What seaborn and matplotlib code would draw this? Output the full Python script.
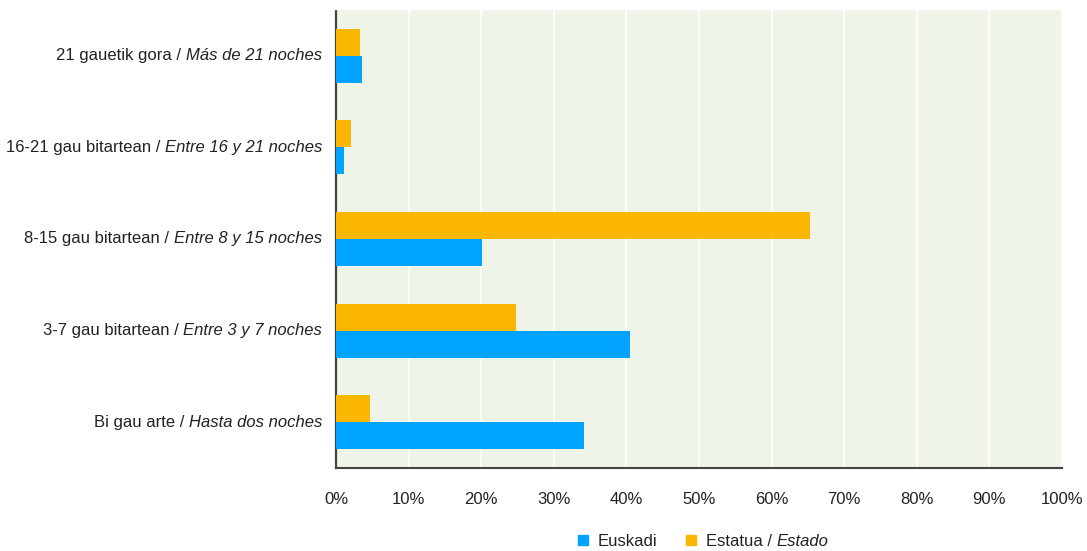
import matplotlib
matplotlib.use("Agg")
import pandas as pd
import matplotlib.pyplot as plt
import seaborn as sns
from matplotlib import font_manager
from matplotlib.lines import Line2D

# categories (top to bottom), Basque / Spanish parts of each label
labels_eu = ["21 gauetik gora", "16-21 gau bitartean", "8-15 gau bitartean",
             "3-7 gau bitartean", "Bi gau arte"]
labels_es = ["Más de 21 noches", "Entre 16 y 21 noches", "Entre 8 y 15 noches",
             "Entre 3 y 7 noches", "Hasta dos noches"]

# values in %
euskadi = [3.6, 1.1, 20.1, 40.5, 34.2]
estado = [3.3, 2.1, 65.3, 24.8, 4.7]

x_ticks = list(range(0, 101, 10))
x_ticklabels = [f"{v}%" for v in x_ticks]

blue = "#00a3ff"
orange = "#fbb600"
bg = "#eef4e7"
txt = "#222222"

# pick a narrow font if one is there
available = {f.name for f in font_manager.fontManager.ttflist}
if "Liberation Sans Narrow" in available:
    font = "Liberation Sans Narrow"
    fsize = 13
else:
    font = "Liberation Sans"
    fsize = 12

sns.set_theme(style="white")
plt.rcParams["font.family"] = [font, "DejaVu Sans"]

df = pd.DataFrame({
    "cat": labels_eu * 2,
    "serie": ["Euskadi"] * len(euskadi) + ["Estado"] * len(estado),
    "value": euskadi + estado,
})

fig = plt.figure(figsize=(10.87, 5.51), dpi=100)
ax = fig.add_axes([336 / 1087, 83 / 551, 726 / 1087, 458 / 551])
ax.set_facecolor(bg)

sns.barplot(data=df, y="cat", x="value", hue="serie", order=labels_eu,
            hue_order=["Estado", "Euskadi"],
            palette={"Euskadi": blue, "Estado": orange},
            orient="h", width=0.59, gap=0, saturation=1, legend=False, ax=ax,
            linewidth=0, zorder=3)

ax.set_xlim(0, 100)
ax.set_ylim(4.5, -0.5)
ax.set_xticks(x_ticks)
ax.set_xticklabels(x_ticklabels, fontsize=fsize, color=txt)
ax.tick_params(axis="x", length=0, pad=17)
ax.set_yticks(range(len(labels_eu)))
ax.set_yticklabels([])
ax.tick_params(axis="y", length=0)
ax.set_xlabel("")
ax.set_ylabel("")
ax.xaxis.grid(True, color="white", linewidth=1.2, zorder=0)
ax.yaxis.grid(False)
ax.set_axisbelow(True)

for s in ["top", "right"]:
    ax.spines[s].set_visible(False)
ax.spines["left"].set_color("#444444")
ax.spines["left"].set_linewidth(1.6)
ax.spines["left"].set_linestyle((0, (2.5, 1)))
ax.spines["bottom"].set_color("#444444")
ax.spines["bottom"].set_linewidth(1.5)

# two-style category labels
ytrans = ax.get_yaxis_transform()
for i, (eu, es) in enumerate(zip(labels_eu, labels_es)):
    it = ax.text(-0.019, i, es, transform=ytrans, ha="right", va="center",
                 fontsize=fsize, fontstyle="italic", color=txt)
    ax.annotate(eu + " /", xy=(0, 0.5), xycoords=it, xytext=(-3.5, 0),
                textcoords="offset points", ha="right", va="center",
                fontsize=fsize, color=txt)

# legend
handles = [Line2D([], [], marker="s", linestyle="", color=blue, markersize=7.5),
           Line2D([], [], marker="s", linestyle="", color=orange, markersize=7.5)]
leg = fig.legend(handles, ["Euskadi", "Estatua /"], loc="center left",
                 bbox_to_anchor=(568 / 1087, 1 - 541 / 551), ncol=2,
                 frameon=False, fontsize=fsize, handlelength=0.8,
                 handletextpad=0.5, columnspacing=1.6, borderpad=0)
for t in leg.get_texts():
    t.set_color(txt)
fig.canvas.draw()
ax.annotate("Estado", xy=(1, 0.5), xycoords=leg.get_texts()[1],
            xytext=(3.5, 0), textcoords="offset points", ha="left",
            va="center", fontsize=fsize, fontstyle="italic", color=txt,
            annotation_clip=False)

fig.savefig("out.png", dpi=100)
